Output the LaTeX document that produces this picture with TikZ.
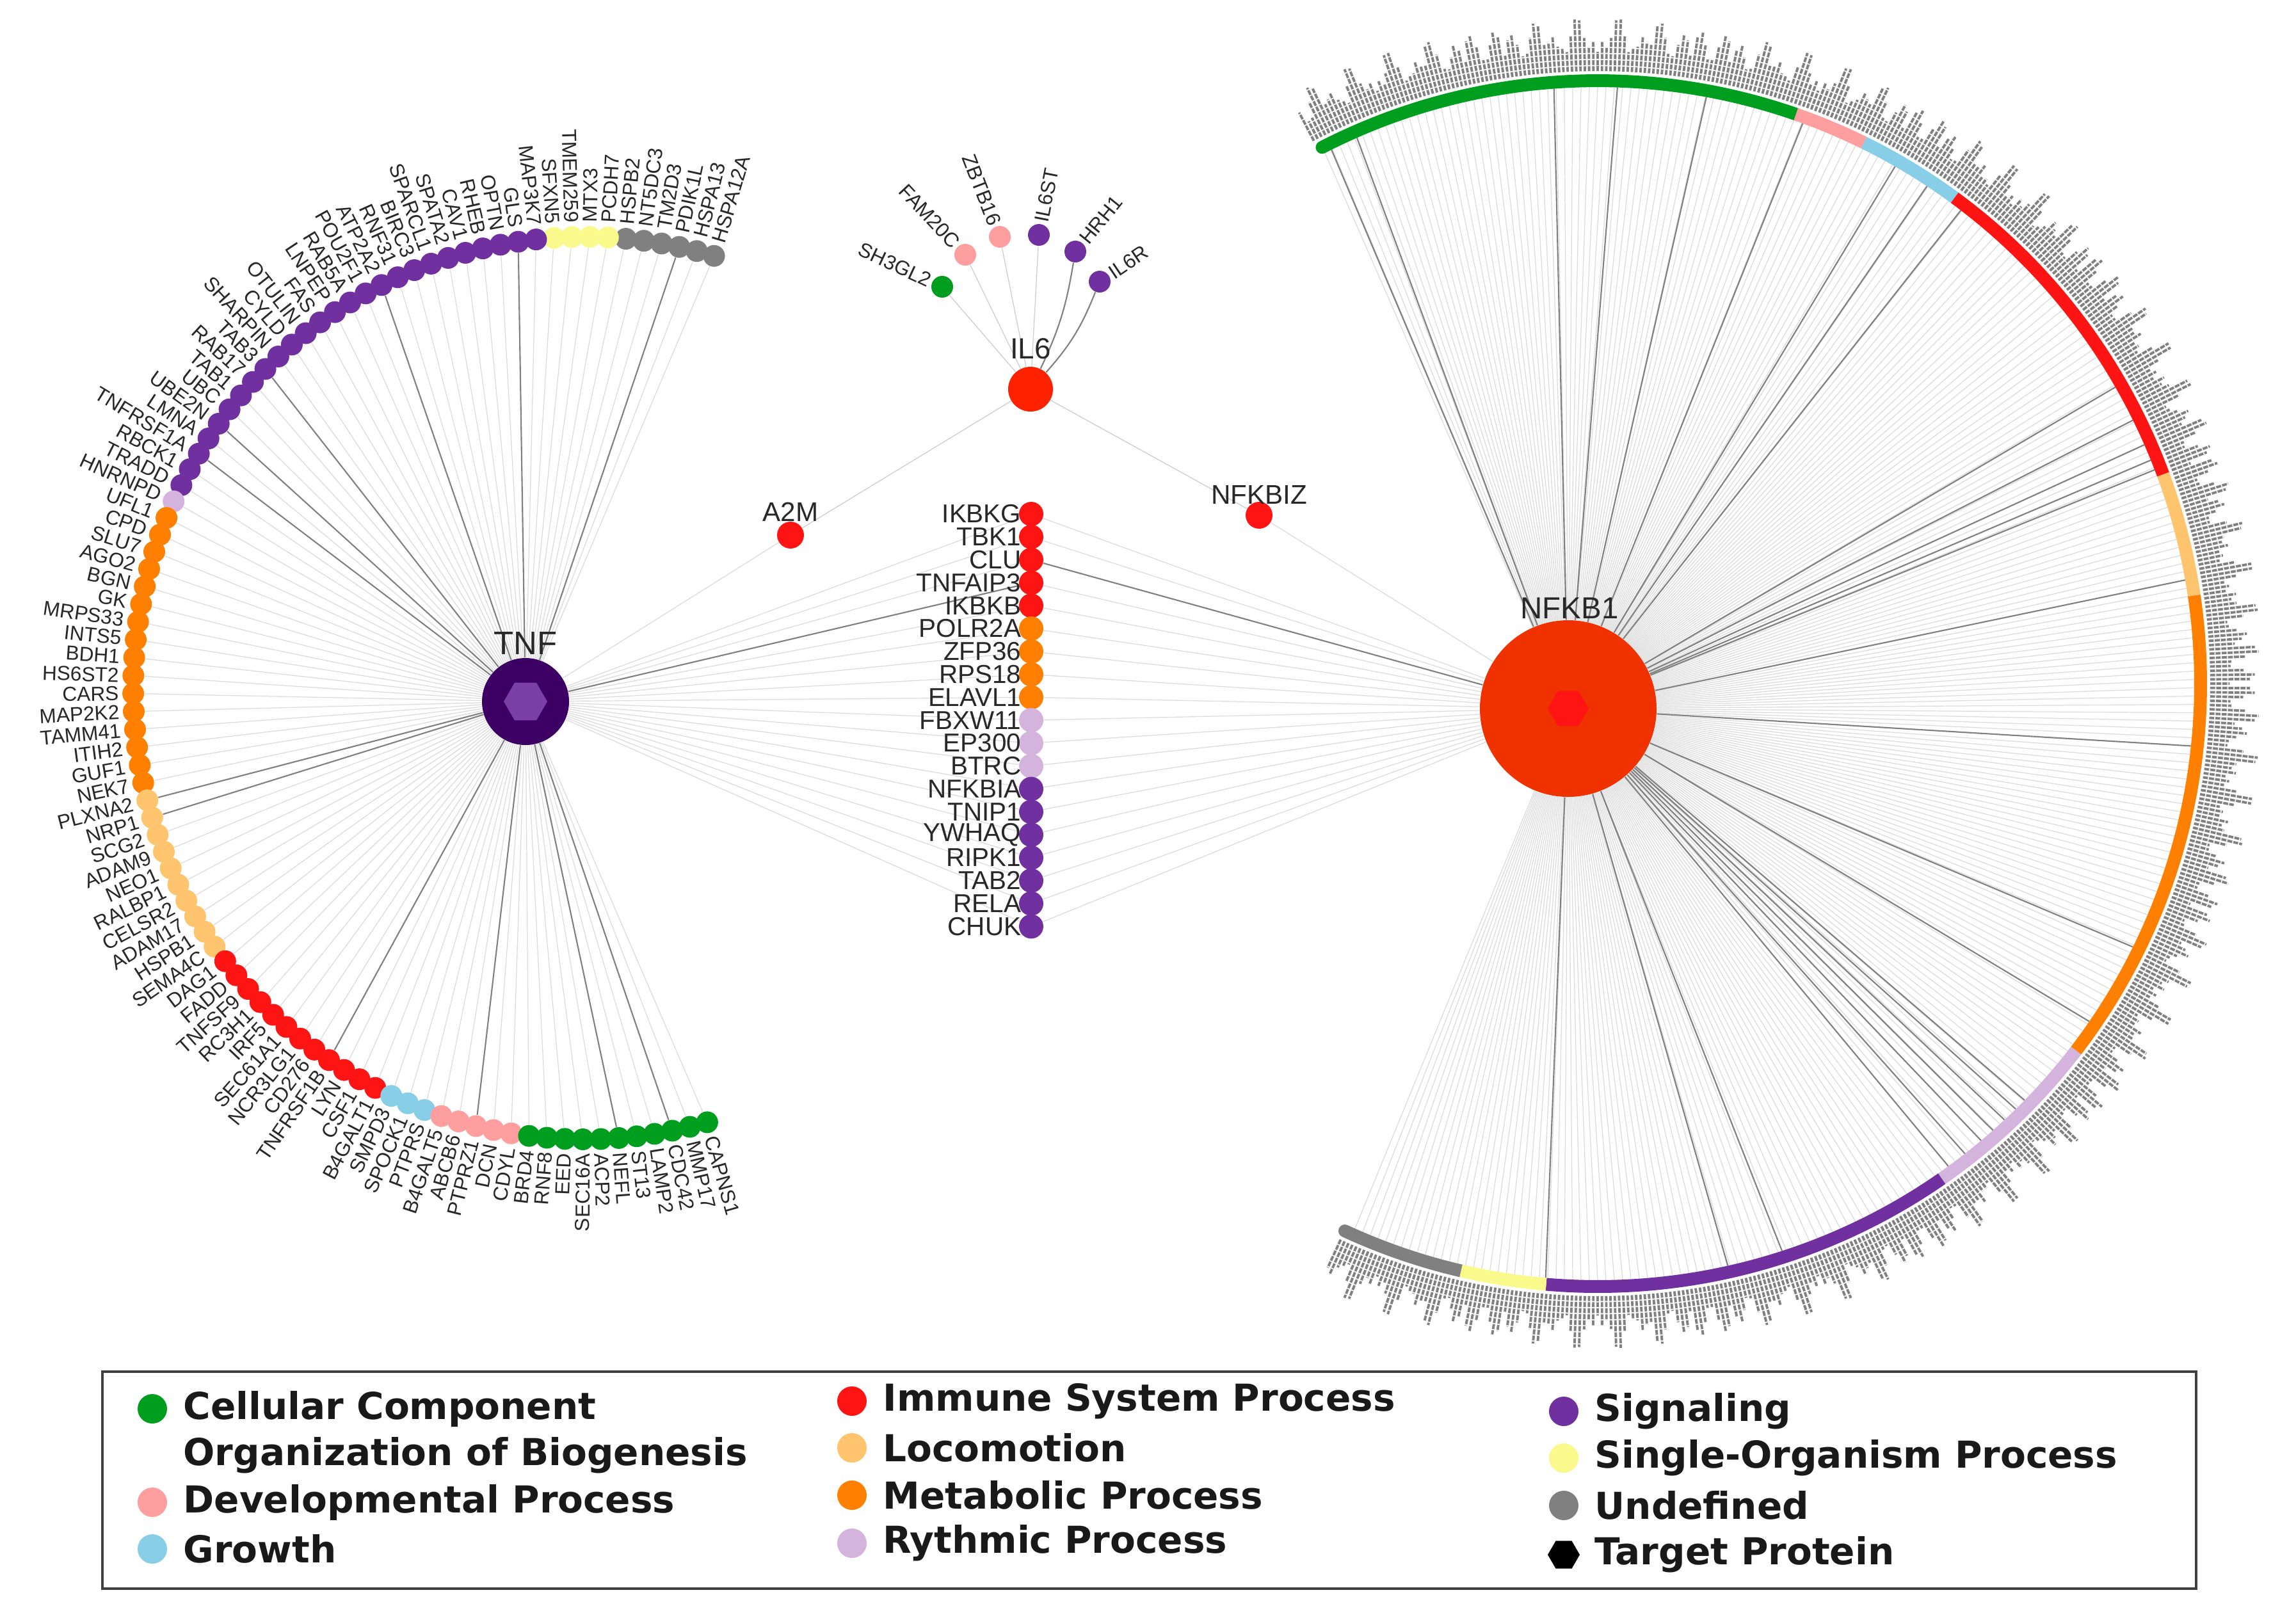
\documentclass[tikz,border=0pt]{standalone}
\usepackage{fontspec}
\setmainfont{Liberation Sans}
\newfontfamily\legfont{DejaVu Sans}
\usetikzlibrary{shapes.geometric}
\pgfdeclarelayer{bg}
\pgfsetlayers{bg,main}
\definecolor{cco}{RGB}{0,158,30}
\definecolor{cdev}{RGB}{255,158,158}
\definecolor{cgro}{RGB}{135,206,230}
\definecolor{cimm}{RGB}{255,20,20}
\definecolor{cloc}{RGB}{255,196,110}
\definecolor{cmet}{RGB}{255,128,0}
\definecolor{crhy}{RGB}{212,180,220}
\definecolor{csig}{RGB}{112,48,160}
\definecolor{csin}{RGB}{250,250,140}
\definecolor{cund}{RGB}{128,128,128}
\definecolor{ctnf}{RGB}{60,0,100}
\definecolor{ctnfhex}{RGB}{123,63,168}
\definecolor{cnfkb}{RGB}{240,50,0}
\definecolor{cil}{RGB}{255,34,0}
\definecolor{ctxt}{RGB}{40,40,40}
\tikzset{
  dot/.style={circle,inner sep=0pt,minimum size=0.34cm},
  sdot/.style={circle,inner sep=0pt,minimum size=0.34cm},
  cdot/.style={circle,inner sep=0pt,minimum size=0.38cm},
  hexa/.style={regular polygon,regular polygon sides=6,inner sep=0pt},
  lbl/.style={inner sep=0pt,text=ctxt,font=\fontsize{9}{10}\selectfont},
  clbl/.style={inner sep=0pt,text=ctxt,font=\fontsize{11.5}{12}\selectfont},
  hublbl/.style={inner sep=0pt,text=ctxt},
  faint/.style={black!14,line width=0.35pt},
  dark/.style={black!50,line width=0.6pt},
  ring/.style={line width=0.2cm},
  fringe/.style={black!50,line width=1.1pt,dash pattern=on 2.2pt off 0.5pt},
  legdot/.style={circle,inner sep=0pt,minimum size=0.46cm},
  legtxt/.style={inner sep=0pt,anchor=west,text=black!90,font=\legfont\bfseries\fontsize{16.5}{18}\selectfont}
}
\begin{document}
\begin{tikzpicture}[]
    \useasboundingbox (0,0) rectangle (35.87,-25.30);
    \begin{pgfonlayer}{bg}
      \fill[white] (0,0) rectangle (35.87,-25.30);
    \end{pgfonlayer}
    \coordinate (arcc) at (9.13,-10.75);
    \coordinate (rc) at (24.96,-10.68);

    \node[circle,fill=ctnf,minimum size=1.36cm,inner sep=0pt] (tnf) at (8.21,-10.96) {};
    \node[hexa,fill=ctnfhex,minimum size=0.68cm] (tnfhex) at (tnf) {};
    \node[hublbl,font=\fontsize{14.5}{15}\selectfont] (tnflbl) at (8.21,-10.05) {TNF};
    \node[circle,fill=cnfkb,minimum size=2.76cm,inner sep=0pt] (nfkb) at (24.50,-11.07) {};
    \node[hexa,fill=cimm,minimum size=0.64cm] (nfkbhex) at (nfkb) {};
    \node[hublbl,font=\fontsize{13.5}{14}\selectfont] (nfkblbl) at (24.52,-9.50) {NFKB1};
    \node[circle,fill=cil,minimum size=0.70cm,inner sep=0pt] (il6) at (16.10,-6.08) {};
    \node[hublbl,font=\fontsize{13}{14}\selectfont] (il6lbl) at (16.10,-5.45) {IL6};

    \node[dot,minimum size=0.42cm,fill=cimm] (a2m) at (12.35,-8.36) {};
    \node[hublbl,font=\fontsize{12}{13}\selectfont] (a2mlbl) at (12.35,-8.00) {A2M};
    \node[dot,minimum size=0.42cm,fill=cimm] (nfkbiz) at (19.67,-8.05) {};
    \node[hublbl,font=\fontsize{12}{13}\selectfont] (nfkbizlbl) at (19.67,-7.73) {NFKBIZ};

    \node[sdot,fill=cco] (sh3gl2) at (14.72,-4.48) {};
    \node[sdot,fill=cdev] (fam20c) at (15.08,-3.98) {};
    \node[sdot,fill=cdev] (zbtb16) at (15.62,-3.70) {};
    \node[sdot,fill=csig] (il6st) at (16.23,-3.67) {};
    \node[sdot,fill=csig] (hrh1) at (16.80,-3.93) {};
    \node[sdot,fill=csig] (il6r) at (17.18,-4.40) {};
    \node[lbl,rotate=-25,anchor=east] (sh3gl2lbl) at ([shift={(155:0.2)}]sh3gl2) {SH3GL2};
    \node[lbl,rotate=-47,anchor=east] (fam20clbl) at ([shift={(133:0.2)}]fam20c) {FAM20C};
    \node[lbl,rotate=-69,anchor=east] (zbtb16lbl) at ([shift={(111:0.2)}]zbtb16) {ZBTB16};
    \node[lbl,rotate=79,anchor=west] (il6stlbl) at ([shift={(79:0.2)}]il6st) {IL6ST};
    \node[lbl,rotate=51,anchor=west] (hrh1lbl) at ([shift={(51:0.2)}]hrh1) {HRH1};
    \node[lbl,rotate=34,anchor=west] (il6rlbl) at ([shift={(34:0.2)}]il6r) {IL6R};
    \begin{pgfonlayer}{bg}
      \foreach \n in {sh3gl2,fam20c,zbtb16,il6st,a2m,nfkbiz}
        \draw[faint,black!20] (il6) -- (\n);
      \draw[faint] (tnf) -- (a2m);
      \draw[faint] (nfkb) -- (nfkbiz);
      \draw[dark] (il6) to[bend right=8] (hrh1);
      \draw[dark] (il6) to[bend right=10] (il6r);
    \end{pgfonlayer}

    \foreach \g/\c [count=\i from 0] in {HSPA12A/cund,HSPA13/cund,PDIK1L/cund,TM2D3/cund,NT5DC3/cund,HSPB2/cund,
      PCDH7/csin,MTX3/csin,TMEM259/csin,SFXN5/csin,
      MAP3K7/csig,GLS/csig,OPTN/csig,RHEB/csig,CAV1/csig,SPATA2/csig,SPARCL1/csig,BIRC3/csig,RNF31/csig,ATP2A2/csig,
      POU2F1/csig,RAB5A/csig,LNPEP/csig,FAS/csig,OTULIN/csig,CYLD/csig,SHARPIN/csig,TAB3/csig,RAB17/csig,TAB1/csig,
      UBC/csig,UBE2N/csig,LMNA/csig,TNFRSF1A/csig,RBCK1/csig,TRADD/csig,
      HNRNPD/crhy,
      UFL1/cmet,CPD/cmet,SLU7/cmet,AGO2/cmet,BGN/cmet,GK/cmet,MRPS33/cmet,INTS5/cmet,BDH1/cmet,HS6ST2/cmet,
      CARS/cmet,MAP2K2/cmet,TAMM41/cmet,ITIH2/cmet,GUF1/cmet,NEK7/cmet,
      PLXNA2/cloc,NRP1/cloc,SCG2/cloc,ADAM9/cloc,NEO1/cloc,RALBP1/cloc,CELSR2/cloc,ADAM17/cloc,HSPB1/cloc,SEMA4C/cloc,
      DAG1/cimm,FADD/cimm,TNFSF9/cimm,RC3H1/cimm,IRF5/cimm,SEC61A1/cimm,NCR3LG1/cimm,CD276/cimm,TNFRSF1B/cimm,
      LYN/cimm,CSF1/cimm,B4GALT1/cimm,
      SMPD3/cgro,SPOCK1/cgro,PTPRS/cgro,
      B4GALT5/cdev,ABCB6/cdev,PTPRZ1/cdev,DCN/cdev,CDYL/cdev,
      BRD4/cco,RNF8/cco,EED/cco,SEC16A/cco,ACP2/cco,NEFL/cco,ST13/cco,LAMP2/cco,CDC42/cco,MMP17/cco,CAPNS1/cco} {
      \pgfmathsetmacro\a{73.3+\i*2.2849}
      \pgfmathtruncatemacro\lft{and(\a>90,\a<270)}
      \ifnum\lft=1 \def\anc{east}\pgfmathsetmacro\rot{\a+180}\else\def\anc{west}\let\rot\a\fi
      \node[dot,fill=\c] (t\i) at ([shift={(\a:7.05)}]arcc) {};
      \node[lbl,rotate=\rot,anchor=\anc] (tl\i) at ([shift={(\a:7.27)}]arcc) {\g};
      \begin{pgfonlayer}{bg}
        \draw[faint] (tnf) -- (t\i);
      \end{pgfonlayer}
    }
    \begin{pgfonlayer}{bg}
      \foreach \j in {2,11,19,27,31,33,53,54,71,80,88,91}
        \draw[dark] (tnf) -- (t\j);
    \end{pgfonlayer}

    \foreach \g/\c [count=\i from 0] in {IKBKG/cimm,TBK1/cimm,CLU/cimm,TNFAIP3/cimm,IKBKB/cimm,
      POLR2A/cmet,ZFP36/cmet,RPS18/cmet,ELAVL1/cmet,FBXW11/crhy,EP300/crhy,BTRC/crhy,
      NFKBIA/csig,TNIP1/csig,YWHAQ/csig,RIPK1/csig,TAB2/csig,RELA/csig,CHUK/csig} {
      \node[cdot,fill=\c] (m\i) at (16.11,{-8.03-\i*0.358}) {};
      \node[clbl,anchor=east] (ml\i) at ([xshift=-0.15cm]m\i.center) {\g};
      \begin{pgfonlayer}{bg}
        \draw[faint] (tnf) -- (m\i);
        \draw[faint] (nfkb) -- (m\i);
      \end{pgfonlayer}
    }
    \begin{pgfonlayer}{bg}
      \draw[dark] (tnf) -- (m3);
      \draw[dark] (m2) -- (nfkb);
    \end{pgfonlayer}

    \begin{pgfonlayer}{bg}
      \foreach \a [count=\k] in {117.2,116.4,...,-114.8} {
        \coordinate (r\k) at ([shift={(\a:9.32)}]rc);
        \draw[faint] (nfkb) -- (r\k);
      }
      \foreach \a [count=\k] in {116.5,113.8,94.2,88.1,79.5,69.9,60.1,56.5,52.5,29.8,26.2,23.6,22,21,10,-6,
          -26.2,-34.5,-44.3,-45.5,-47,-48.5,-50,-52,-54,-72,-77.4,-95} {
        \coordinate (d\k) at ([shift={(\a:9.32)}]rc);
        \draw[dark] (nfkb) -- (d\k);
      }
    \end{pgfonlayer}

    \draw[ring,cund,line cap=round] ([shift={(-114.8:9.42)}]rc) arc[start angle=-114.8,end angle=-103.1,radius=9.42];
    \draw[ring,cco,line cap=round] ([shift={(117.2:9.42)}]rc) arc[start angle=117.2,end angle=70.8,radius=9.42];
    \foreach \s/\e/\c in {70.8/63.8/cdev,63.8/53.7/cgro,53.7/20.3/cimm,20.3/8.4/cloc,8.4/-37.5/cmet,
        -37.5/-55.2/crhy,-55.2/-94.9/csig,-94.9/-103.1/csin}
      \draw[ring,\c] ([shift={(\s:9.42)}]rc) arc[start angle=\s,end angle=\e,radius=9.42];
    \foreach \a in {117.6,117.2,...,-115.2} {
      \pgfmathsetmacro\l{0.3+0.55*abs(sin(\a*97))*abs(cos(\a*53))}
      \draw[fringe] ([shift={(\a:9.57)}]rc) -- ([shift={(\a:{9.57+\l})}]rc);
    }

    \draw[line width=1.2pt,black!75] (1.60,-21.43) rectangle (34.31,-24.82);
    \foreach \x/\y/\c/\t [count=\i] in {2.38/-22.01/cco/Cellular Component,2.38/-23.47/cdev/Developmental Process,
        2.38/-24.20/cgro/Growth,13.31/-21.89/cimm/Immune System Process,13.31/-22.62/cloc/Locomotion,
        13.31/-23.36/cmet/Metabolic Process,13.31/-24.11/crhy/Rythmic Process,24.43/-22.05/csig/Signaling,
        24.43/-22.78/csin/Single-Organism Process,24.43/-23.52/cund/Undefined} {
      \node[legdot,fill=\c] (lg\i) at (\x,\y) {};
      \node[legtxt] (lt\i) at ([xshift=0.48cm]lg\i.center) {\t};
    }
    \node[legtxt] (ltorg) at (2.86,-22.74) {Organization of Biogenesis};
    \node[hexa,fill=black,minimum size=0.5cm] (lghex) at (24.43,-24.29) {};
    \node[legtxt] (lthex) at ([xshift=0.48cm]lghex.center) {Target Protein};
\end{tikzpicture}
\end{document}
